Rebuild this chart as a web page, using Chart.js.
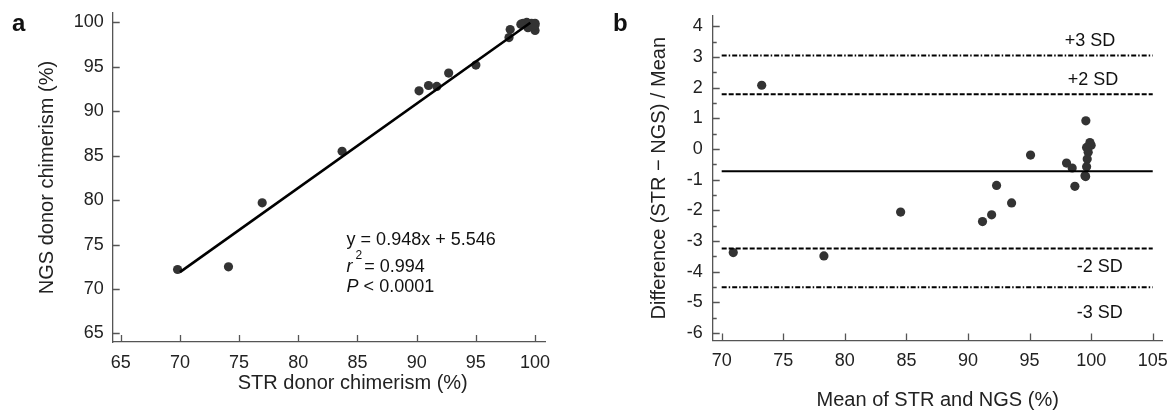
<!DOCTYPE html>
<html>
<head>
<meta charset="utf-8">
<script src="https://cdn.jsdelivr.net/npm/chart.js@4"></script>
<style>
  body { margin: 0; width: 1172px; height: 412px; overflow: hidden; background: #fff; position: relative; font-family: "Liberation Sans", Arial, sans-serif; }
  canvas { position: absolute; top: 0; }
  #chartA { left: 0; }
  #chartB { left: 590px; }
  .panel { position: absolute; font-weight: bold; font-size: 24px; line-height: 24px; color: #111; }
</style>
</head>
<body>
<canvas id="chartA" width="590" height="412"></canvas>
<canvas id="chartB" width="600" height="412"></canvas>
<div class="panel" style="left:12px; top:11px;">a</div>
<div class="panel" style="left:613px; top:11px;">b</div>
<script>
// panel a: STR vs NGS donor chimerism (%)
const strDonor = [69.8, 74.1, 76.95, 83.7, 90.2, 91.0, 91.7, 92.7, 95.0, 97.9, 97.8, 99.0, 99.4, 99.7, 100.0, 100.0, 99.3, 99.8, 98.8, 100.0];
const ngsDonor = [72.2, 72.5, 79.7, 85.5, 92.3, 92.9, 92.8, 94.3, 95.2, 99.2, 98.3, 99.9, 99.4, 99.9, 99.9, 99.1, 100.0, 99.6, 99.8, 99.7];
const regSlope = 0.948;
const regIntercept = 5.546;
const regRange = [70, 99.6];
const ticksAx = [65, 70, 75, 80, 85, 90, 95, 100];
const ticksAy = [65, 70, 75, 80, 85, 90, 95, 100];

// panel b: Bland-Altman
const meanPct = [73.25, 70.94, 78.3, 84.53, 91.18, 91.92, 92.32, 93.54, 95.08, 98.0, 98.46, 98.68, 99.57, 99.9, 100.0, 99.63, 99.76, 99.68, 99.63, 99.5, 99.55];
const diffPct = [2.08, -3.38, -3.49, -2.06, -2.37, -2.15, -1.19, -1.76, -0.2, -0.46, -0.62, -1.22, 0.92, 0.21, 0.12, 0.05, -0.11, -0.33, -0.58, -0.87, -0.9];
const biasMean = -0.73;
const limitValues = [3.05, 1.79, -3.25, -4.51];
const limitLabels = ["+3 SD", "+2 SD", "-2 SD", "-3 SD"];
const limitLabelPos = [[99.9, 3.52], [100.15, 2.26], [100.7, -3.85], [100.7, -5.35]];
const limitRange = [70, 105];
const ticksBx = [70, 75, 80, 85, 90, 95, 100, 105];
const ticksBy = [-6, -5, -4, -3, -2, -1, 0, 1, 2, 3, 4];
const minorBy = [-5.5, -4.5, -3.5, -2.5, -1.5, -0.5, 0.5, 1.5, 2.5, 3.5];

Chart.defaults.font.family = "'Liberation Sans', Arial, sans-serif";
Chart.defaults.color = "#222";

// tick marks pointing into the plot
const inwardTicks = {
  id: "inwardTicks",
  afterDraw(chart, args, opts) {
    const { ctx, chartArea: a, scales } = chart;
    ctx.save();
    ctx.strokeStyle = "#555";
    ctx.lineWidth = 1.3;
    ctx.beginPath();
    scales.x.ticks.forEach((t) => {
      const px = Math.round(scales.x.getPixelForValue(t.value)) + 0.5;
      ctx.moveTo(px, a.bottom);
      ctx.lineTo(px, a.bottom - 7);
    });
    scales.y.ticks.forEach((t) => {
      const py = Math.round(scales.y.getPixelForValue(t.value)) + 0.5;
      ctx.moveTo(a.left, py);
      ctx.lineTo(a.left + 7, py);
    });
    (opts.minorY || []).forEach((v) => {
      const py = Math.round(scales.y.getPixelForValue(v)) + 0.5;
      ctx.moveTo(a.left, py);
      ctx.lineTo(a.left + 4, py);
    });
    ctx.stroke();
    ctx.restore();
  },
};

// text notes placed with the chart's scales
const notes = {
  id: "notes",
  afterDatasetsDraw(chart, args, opts) {
    const { ctx, scales } = chart;
    ctx.save();
    ctx.fillStyle = "#111";
    ctx.textBaseline = "middle";
    (opts.items || []).forEach((it) => {
      const px = scales.x.getPixelForValue(it.x);
      const py = scales.y.getPixelForValue(it.y);
      ctx.textAlign = it.align || "left";
      let cx = px;
      it.parts.forEach((p) => {
        ctx.font = (p.italic ? "italic " : "") + (p.size || 18) + "px 'Liberation Sans', Arial, sans-serif";
        ctx.fillStyle = p.color || "#111";
        ctx.fillText(p.text, cx + (p.dx || 0), py + (p.dy || 0));
        cx += (p.dx || 0) + (it.align === "center" ? 0 : ctx.measureText(p.text).width);
      });
    });
    ctx.restore();
  },
};

function axis(ticks, min, max, fitSize, isX, title, titlePad, labelPad) {
  return {
    type: "linear",
    min: min,
    max: max,
    afterBuildTicks: (s) => { s.ticks = ticks.map((v) => ({ value: v })); },
    afterFit: (s) => {
      if (isX) s.height = fitSize; else s.width = fitSize;
      s.paddingTop = 0; s.paddingBottom = 0; s.paddingLeft = 0; s.paddingRight = 0;
    },
    grid: { display: false, drawTicks: false },
    border: { display: true, color: "#555", width: 1.3 },
    ticks: { font: { size: 18 }, color: "#222", padding: labelPad },
    title: { display: !!title, text: title, font: { size: 20 }, color: "#222", padding: titlePad },
  };
}

// panel a
new Chart(document.getElementById("chartA"), {
  type: "scatter",
  data: {
    datasets: [
      {
        data: regRange.map((x) => ({ x: x, y: regSlope * x + regIntercept })),
        showLine: true,
        borderColor: "#000",
        borderWidth: 2.6,
        pointRadius: 0,
      },
      {
        data: strDonor.map((x, i) => ({ x: x, y: ngsDonor[i] })),
        backgroundColor: "#333",
        borderWidth: 0,
        pointRadius: 4.6,
      },
    ],
  },
  options: {
    responsive: false,
    animation: false,
    layout: { padding: { left: 0, top: 13, right: 45, bottom: 0 } },
    plugins: {
      legend: { display: false },
      tooltip: { enabled: false },
      notes: {
        items: [
          { x: 84.08, y: 75.53, parts: [{ text: "y = 0.948x + 5.546" }] },
          { x: 84.08, y: 72.52, parts: [{ text: "r", italic: true }, { text: "2", size: 12, dx: 3, dy: -11 }, { text: "= 0.994", dx: 2 }] },
          { x: 84.08, y: 70.2, parts: [{ text: "P", italic: true }, { text: " < 0.0001" }] },
          { x: 84.6, y: 59.4, align: "center", parts: [{ text: "STR donor chimerism (%)", size: 20, color: "#222" }] },
        ],
      },
    },
    scales: {
      x: axis(ticksAx, 64.32, 100.84, 70, true, "", { top: 0, bottom: 0 }, 10.5),
      y: axis(ticksAy, 64.04, 101.06, 112.7, false, "NGS donor chimerism (%)", { top: 35, bottom: 0 }, 9),
    },
  },
  plugins: [inwardTicks, notes],
});

// panel b
const limitDash = [[5, 2, 1.5, 2], [5, 2], [5, 2], [5, 2, 1.5, 2]];
new Chart(document.getElementById("chartB"), {
  type: "scatter",
  data: {
    datasets: [
      {
        data: limitRange.map((x) => ({ x: x, y: biasMean })),
        showLine: true,
        borderColor: "#000",
        borderWidth: 2,
        pointRadius: 0,
      },
      ...limitValues.map((v, i) => ({
        data: limitRange.map((x) => ({ x: x, y: v })),
        showLine: true,
        borderColor: "#000",
        borderWidth: 2,
        borderDash: limitDash[i],
        pointRadius: 0,
      })),
      {
        data: meanPct.map((x, i) => ({ x: x, y: diffPct[i] })),
        backgroundColor: "#333",
        borderWidth: 0,
        pointRadius: 4.6,
      },
    ],
  },
  options: {
    responsive: false,
    animation: false,
    layout: { padding: { left: 0, top: 16, right: 27.3, bottom: 0 } },
    plugins: {
      legend: { display: false },
      tooltip: { enabled: false },
      inwardTicks: { minorY: minorBy },
      notes: {
        items: limitLabels.map((t, i) => ({ x: limitLabelPos[i][0], y: limitLabelPos[i][1], align: "center", parts: [{ text: t }] })),
      },
    },
    scales: {
      x: axis(ticksBx, 69.27, 105.81, 71.5, true, "Mean of STR and NGS (%)", { top: 0, bottom: 0 }, 9.5),
      y: axis(ticksBy, -6.25, 4.34, 122.7, false, "Difference (STR \u2212 NGS) / Mean", { top: 57, bottom: 0 }, 10),
    },
  },
  plugins: [inwardTicks, notes],
});
</script>
</body>
</html>
